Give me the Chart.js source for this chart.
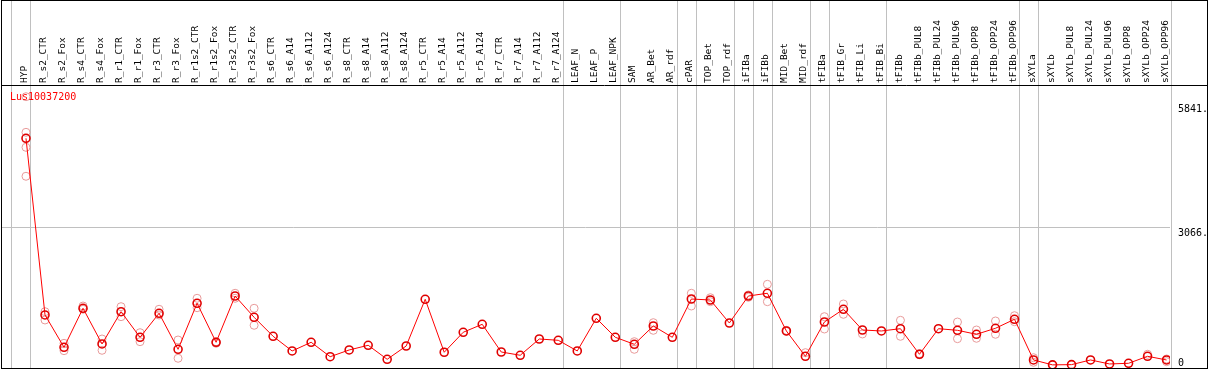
<!DOCTYPE html>
<html lang="en">
<head>
    <meta charset="UTF-8">
    <title>Lus10037200</title>
    <script src="https://cdn.jsdelivr.net/npm/chart.js"></script>
    <style>
        body { margin: 0; background: #fff; }
        canvas { display: block; }
    </style>
</head>
<body>
    <canvas id="chart" width="1209" height="370"></canvas>

    <script>
        const geneName = 'Lus10037200';

        const categories = [
            'HYP', 'R_s2_CTR', 'R_s2_Fox', 'R_s4_CTR', 'R_s4_Fox', 'R_r1_CTR', 'R_r1_Fox',
            'R_r3_CTR', 'R_r3_Fox', 'R_r1s2_CTR', 'R_r1s2_Fox', 'R_r3s2_CTR', 'R_r3s2_Fox',
            'R_s6_CTR', 'R_s6_A14', 'R_s6_A112', 'R_s6_A124', 'R_s8_CTR', 'R_s8_A14',
            'R_s8_A112', 'R_s8_A124', 'R_r5_CTR', 'R_r5_A14', 'R_r5_A112', 'R_r5_A124',
            'R_r7_CTR', 'R_r7_A14', 'R_r7_A112', 'R_r7_A124', 'LEAF_N', 'LEAF_P', 'LEAF_NPK',
            'SAM', 'AR_Bet', 'AR_rdf', 'cPAR', 'TOP_Bet', 'TOP_rdf', 'iFIBa', 'iFIBb',
            'MID_Bet', 'MID_rdf', 'tFIBa', 'tFIB_Gr', 'tFIB_Li', 'tFIB_Bi', 'tFIBb',
            'tFIBb_PUL8', 'tFIBb_PUL24', 'tFIBb_PUL96', 'tFIBb_OPP8', 'tFIBb_OPP24', 'tFIBb_OPP96',
            'sXYLa', 'sXYLb', 'sXYLb_PUL8', 'sXYLb_PUL24', 'sXYLb_PUL96', 'sXYLb_OPP8',
            'sXYLb_OPP24', 'sXYLb_OPP96'
        ];

        // mean expression per sample
        const meanValues = [
            5059, 1118, 397, 1267, 471, 1191, 620, 1155, 352, 1379, 509, 1541, 1066,
            642, 315, 509, 187, 337, 442, 129, 426, 1468, 286, 732, 910,
            292, 219, 582, 553, 315, 1044, 620,
            464, 872, 620, 1474, 1452, 939, 1541, 1602,
            761, 196, 961, 1245, 783, 761, 812,
            241, 812, 776, 687, 821, 1022,
            114, 5, 10, 114, 25, 40, 196, 114
        ];

        // individual replicates (only the ones visible off the mean marker)
        const replicates = [
            [5987, 5193, 4858, 4212], [1191, 1006], [486, 321], [1318, 1245], [582, 330],
            [1303, 1080], [723, 522], [1245, 1118], [560, 152], [1490, 1280], [522, 486],
            [1602, 1490], [1267, 888],
            [], [], [], [], [], [], [], [], [], [], [], [],
            [], [], [], [], [], [], [],
            [522, 352], [946, 776], [], [1602, 1318], [1503, 1414], [], [1564, 1512], [1802, 1414],
            [750, 775], [277], [1080, 805], [1363, 1133], [694], [], [999, 642],
            [230, 255], [], [961, 589], [783, 598], [984, 687], [1102, 968],
            [165, 62], [], [], [], [], [], [241], [136, 76]
        ];

        const yTickValues = [0, 3066, 5841];
        const yTickLabels = ['0', '3066.', '5841.'];
        const gridValues = [3066];

        // sample index after which a group separator is drawn
        const groupEnds = [-1, 0, 28, 31, 34, 35, 37, 38, 39, 41, 42, 45, 52, 53, 60];

        const X_MIN = -1.315, X_MAX = 60.18;
        const Y_MIN = -65, Y_MAX = 6226;
        const monoFont = 'DejaVu Sans Mono';

        const linePoints = meanValues.map((v, i) => ({ x: i, y: v }));
        const repPoints = [];
        replicates.forEach((reps, i) => reps.forEach(v => repPoints.push({ x: i, y: v })));

        const framePlugin = {
            id: 'frame',
            beforeDatasetsDraw(chart) {
                const ctx = chart.ctx;
                const xs = chart.scales.x;
                ctx.save();
                ctx.strokeStyle = '#c0c0c0';
                ctx.lineWidth = 1;
                groupEnds.forEach(i => {
                    const px = Math.round(xs.getPixelForValue(i) + 4.5) + 0.5;
                    ctx.beginPath();
                    ctx.moveTo(px, 0);
                    ctx.lineTo(px, 368);
                    ctx.stroke();
                });
                ctx.restore();
            },
            afterDraw(chart) {
                const ctx = chart.ctx;
                const ys = chart.scales.y;
                const area = chart.chartArea;
                ctx.save();
                ctx.strokeStyle = '#000';
                ctx.lineWidth = 1;
                ctx.strokeRect(1.5, 0.5, 1206, 368);
                ctx.beginPath();
                ctx.moveTo(1, 85.5);
                ctx.lineTo(1208, 85.5);
                ctx.moveTo(1, 368.5);
                ctx.lineTo(1208, 368.5);
                ctx.stroke();

                ctx.font = '10px "' + monoFont + '"';
                ctx.fillStyle = '#ff0000';
                ctx.textBaseline = 'middle';
                ctx.textAlign = 'left';
                ctx.fillText(geneName, 10, 97);

                ctx.fillStyle = '#000';
                ctx.textBaseline = 'top';
                yTickValues.forEach((v, k) => {
                    const py = Math.min(ys.getPixelForValue(v) + 1, area.bottom - 10);
                    ctx.fillText(yTickLabels[k], 1178, py);
                });
                ctx.restore();
            }
        };

        new Chart(document.getElementById('chart'), {
            type: 'line',
            data: {
                datasets: [{
                    label: geneName,
                    data: linePoints,
                    borderColor: '#ff0000',
                    borderWidth: 1,
                    pointRadius: 4,
                    pointBorderWidth: 1.6,
                    pointBorderColor: '#e00000',
                    pointBackgroundColor: 'rgba(0,0,0,0)',
                    tension: 0,
                    order: 1
                }, {
                    type: 'scatter',
                    label: 'replicates',
                    data: repPoints,
                    pointRadius: 4,
                    borderWidth: 1,
                    borderColor: '#e89a9a',
                    backgroundColor: 'rgba(0,0,0,0)',
                    showLine: false,
                    order: 2
                }]
            },
            options: {
                responsive: false,
                animation: false,
                devicePixelRatio: 1,
                layout: { autoPadding: false, padding: { left: 1, right: 0, top: 0, bottom: 2 } },
                plugins: { legend: { display: false }, tooltip: { enabled: false } },
                scales: {
                    x: {
                        type: 'linear',
                        position: 'top',
                        min: X_MIN,
                        max: X_MAX,
                        afterBuildTicks: s => { s.ticks = categories.map((c, i) => ({ value: i })); },
                        afterFit: s => {
                            s.height = 86;
                            s.paddingLeft = 0;
                            s.paddingRight = 0;
                        },
                        grid: { display: false, drawTicks: false },
                        border: { display: false },
                        ticks: {
                            autoSkip: false,
                            minRotation: 90,
                            maxRotation: 90,
                            padding: 3,
                            labelOffset: 10,
                            color: '#000',
                            font: { family: monoFont, size: 9.5 },
                            callback: v => categories[v]
                        }
                    },
                    y: {
                        position: 'right',
                        min: Y_MIN,
                        max: Y_MAX,
                        afterBuildTicks: s => { s.ticks = yTickValues.map(v => ({ value: v })); },
                        afterFit: s => {
                            s.width = 39;
                            s.paddingTop = 0;
                            s.paddingBottom = 0;
                        },
                        ticks: { display: false },
                        grid: {
                            drawTicks: false,
                            color: c => gridValues.includes(c.tick && c.tick.value) ? '#c0c0c0' : 'rgba(0,0,0,0)'
                        },
                        border: { display: false }
                    }
                }
            },
            plugins: [framePlugin]
        });
    </script>
</body>
</html>
